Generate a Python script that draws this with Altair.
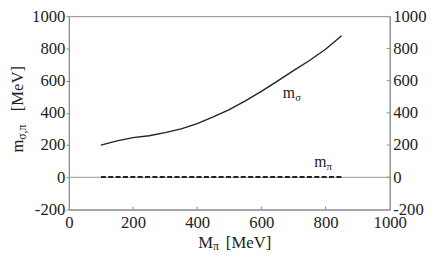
import altair as alt
import pandas as pd

# data
mpi_x = [100, 150, 200, 250, 300, 350, 400, 450, 500, 550, 600, 650, 700, 750, 800, 850]
m_sigma = [200, 226, 246, 258, 277, 300, 333, 375, 420, 474, 533, 597, 662, 725, 795, 878]
m_pion = [2, 2, 2, 2, 2, 2, 2, 2, 2, 2, 2, 2, 2, 2, 2, 2]
x_ticks = [0, 200, 400, 600, 800, 1000]
y_ticks = [-200, 0, 200, 400, 600, 800, 1000]

W, H = 327, 197
FONT = "Liberation Serif"
FS = 17
INK = "#222222"
AX = "#8a8a8a"
LBL = "'' + datum.value"

df = pd.DataFrame({"x": mpi_x, "sig": m_sigma, "pi": m_pion})
one = pd.DataFrame({"k": [0]})

xs = alt.Scale(domain=[0, 1000], nice=False)
ys = alt.Scale(domain=[-200, 1000], nice=False)

x_axis = alt.Axis(values=x_ticks, labelExpr=LBL, grid=False, ticks=False,
                  domainColor=AX, labelFont=FONT, labelFontSize=FS,
                  labelColor=INK, labelPadding=5, title=None, labelFlush=False,
                  orient="bottom")
y_left = alt.Axis(values=y_ticks, labelExpr=LBL, grid=False, tickSize=3, tickColor=AX,
                  domainColor=AX, labelFont=FONT, labelFontSize=FS,
                  labelColor=INK, labelPadding=1, title=None, labelFlush=False,
                  orient="left")
y_right = alt.Axis(values=y_ticks, labelExpr=LBL, grid=False, ticks=False,
                   domainColor=AX, labelFont=FONT, labelFontSize=FS,
                   labelColor=INK, labelPadding=3, title=None, labelFlush=False,
                   orient="right")

zero = alt.Chart(pd.DataFrame({"z": [0]})).mark_rule(color="#999999", strokeWidth=1).encode(
    y=alt.Y("z:Q", scale=ys, axis=None))

sig = alt.Chart(df).mark_line(color="#222222", strokeWidth=1.4).encode(
    x=alt.X("x:Q", scale=xs, axis=x_axis), y=alt.Y("sig:Q", scale=ys, axis=y_left))

pion = alt.Chart(df).mark_line(color="#222222", strokeWidth=2, strokeDash=[5, 2.5]).encode(
    x=alt.X("x:Q", scale=xs, axis=None), y=alt.Y("pi:Q", scale=ys, axis=y_right))

bt = alt.Chart(pd.DataFrame({"t": x_ticks[1:-1]})).mark_rule(color=AX).encode(
    x=alt.X("t:Q", scale=xs, axis=None), y=alt.value(H), y2=alt.value(H - 3))
rt = alt.Chart(pd.DataFrame({"t": y_ticks[1:-1]})).mark_rule(color=AX).encode(
    y=alt.Y("t:Q", scale=ys, axis=None), x=alt.value(W), x2=alt.value(W - 3))

lab = pd.DataFrame({"lx": [667, 765], "ly": [492, 63], "main": ["m", "m"], "sub": ["σ", "π"]})
lab_main = alt.Chart(lab).mark_text(font=FONT, fontSize=16, color=INK, align="left",
                                    baseline="alphabetic").encode(
    x=alt.X("lx:Q", scale=xs, axis=None), y=alt.Y("ly:Q", scale=ys, axis=None), text="main:N")
lab_sub = alt.Chart(lab).mark_text(font=FONT, fontSize=11, color=INK, align="left",
                                   baseline="alphabetic", dx=12.5, dy=3).encode(
    x=alt.X("lx:Q", scale=xs, axis=None), y=alt.Y("ly:Q", scale=ys, axis=None), text="sub:N")

def t(txt, x, y, size=FS, angle=0):
    return alt.Chart(one).mark_text(text=txt, font=FONT, fontSize=size, color=INK,
                                    align="left", baseline="alphabetic", angle=angle).encode(
        x=alt.value(x), y=alt.value(y))

titles = [
    t("M", 132, 236),
    t("π", 147, 238, 12),
    t("[MeV]", 160, 236),
    t("m", -47, 139, FS, 270),
    t("σ,π", -44, 126, 12, 270),
    t("[MeV]", -47, 97, FS, 270),
]

chart = alt.layer(zero, sig, pion, bt, rt, lab_main, lab_sub, *titles).resolve_axis(
    x="independent", y="independent").properties(
    width=W, height=H,
    autosize=alt.AutoSizeParams(type="none"),
    padding={"left": 62, "top": 6, "right": 39, "bottom": 43},
).configure_view(stroke=AX, strokeWidth=1).configure_axis(domainWidth=1)

chart.save("out.html", embed_options={"renderer": "svg", "actions": False})
